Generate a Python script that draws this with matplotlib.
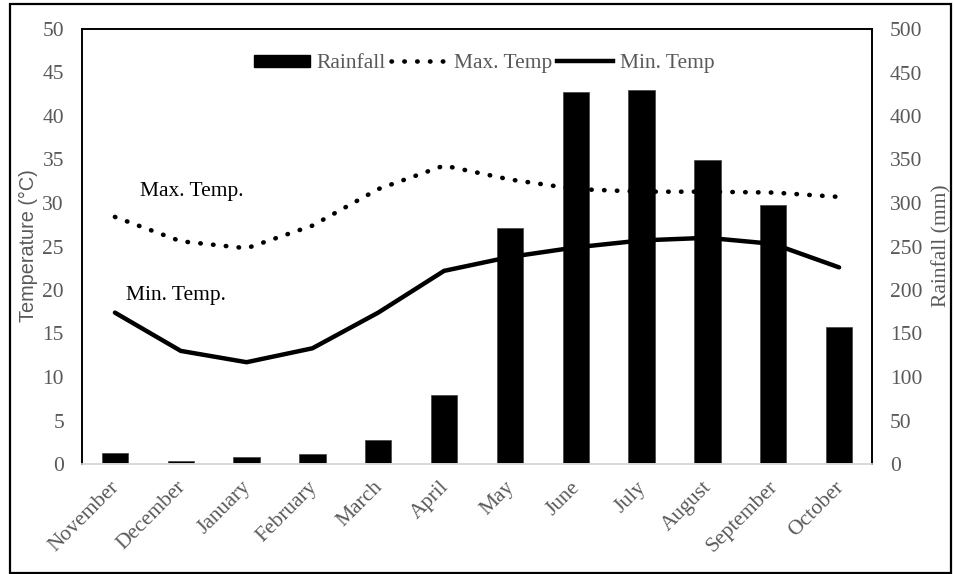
import matplotlib.pyplot as plt
from matplotlib.patches import Rectangle
from matplotlib.lines import Line2D
from matplotlib.patches import Patch
from matplotlib.transforms import ScaledTranslation

# ─── Data ────────────────────────────────────────────────────────────────────────
months = ['November', 'December', 'January', 'February', 'March', 'April',
          'May', 'June', 'July', 'August', 'September', 'October']
rainfall = [13, 3, 8, 12, 28, 79, 271, 428, 430, 350, 298, 158]        # mm
max_temp = [28.4, 25.6, 24.8, 27.4, 31.6, 34.3, 32.7, 31.6, 31.3, 31.3, 31.2, 30.7]
min_temp = [17.4, 13.0, 11.7, 13.3, 17.4, 22.2, 23.8, 24.9, 25.7, 26.0, 25.3, 22.6]

SERIF = ['Liberation Serif', 'DejaVu Serif']
GREY = '#595959'
FS = 15.5

x = list(range(len(months)))

fig = plt.figure(figsize=(9.55, 5.74), dpi=100)
ax = fig.add_axes([82/955, 1 - 464/574, 790/955, 435/574])
ax2 = ax.twinx()

# bars (right axis) behind lines (left axis)
ax2.bar(x, rainfall, width=0.4, color='black', edgecolor='#404040', linewidth=0.5)
ax.set_zorder(ax2.get_zorder() + 1)
ax.patch.set_visible(False)

dot_style = dict(color='black', lw=3.3, linestyle=(0, (0.1, 2.7)), dash_capstyle='round')
ax.plot(x, max_temp, **dot_style)
ax.plot(x, min_temp, color='black', lw=3.2, solid_capstyle='round', solid_joinstyle='round')

# ─── Axes ────────────────────────────────────────────────────────────────────────
ax.set_xlim(-0.5, 11.5)
ax.set_ylim(0, 50)
ax2.set_ylim(0, 500)
ax.set_yticks(range(0, 51, 5))
ax2.set_yticks(range(0, 501, 50))
ax.set_xticks(x)
ax.set_xticklabels(months, rotation=45, ha='right', va='top', rotation_mode='anchor',
                   family=SERIF, fontsize=FS, color=GREY)
ax.tick_params(axis='x', length=0, pad=10)
ax.tick_params(axis='y', length=0, pad=13, labelcolor=GREY, labelsize=FS)
ax2.tick_params(axis='y', length=0, pad=13, labelcolor=GREY, labelsize=FS)
for lab in ax.get_yticklabels() + ax2.get_yticklabels():
    lab.set_family(SERIF)
# nudge month labels slightly left, like the original
shift = ScaledTranslation(-5/100, 0, fig.dpi_scale_trans)
for lab in ax.get_xticklabels():
    lab.set_transform(lab.get_transform() + shift)

for a in (ax, ax2):
    for s in ('left', 'top', 'right'):
        a.spines[s].set_color('black')
        a.spines[s].set_linewidth(1.2)
    a.spines['bottom'].set_color('#d9d9d9')
    a.spines['bottom'].set_linewidth(1.2)

fig.text(28/955, 1 - 246/574, 'Temperature (°C)', rotation=90, ha='center', va='center',
         family=['Liberation Sans', 'DejaVu Sans'], fontsize=14.3, color=GREY)
fig.text(942/955, 1 - 246/574, 'Rainfall (mm)', rotation=90, ha='center', va='center',
         family=SERIF, fontsize=FS, color=GREY)

# ─── Annotations & legend ────────────────────────────────────────────────────────
ax.text(0.38, 31.3, 'Max. Temp.', family=SERIF, fontsize=FS, va='center', ha='left')
ax.text(0.17, 19.4, 'Min. Temp.', family=SERIF, fontsize=FS, va='center', ha='left')

handles = [Patch(facecolor='black', edgecolor='black'),
           Line2D([], [], **dot_style),
           Line2D([], [], color='black', lw=3.2)]
leg = ax.legend(handles, ['Rainfall', 'Max. Temp', 'Min. Temp'], ncol=3,
                loc='center', bbox_to_anchor=(0.509, 0.92), frameon=False,
                prop={'family': SERIF, 'size': FS}, handlelength=2.6,
                handleheight=0.5, handletextpad=0.3, columnspacing=0.25)
for t in leg.get_texts():
    t.set_color(GREY)

# outer frame
fig.patches.append(Rectangle((9.5/955, 1 - 572.5/574), 941/955, 568.5/574,
                             transform=fig.transFigure, fill=False,
                             edgecolor='black', linewidth=1.6))

fig.savefig('out.png', dpi=100)
